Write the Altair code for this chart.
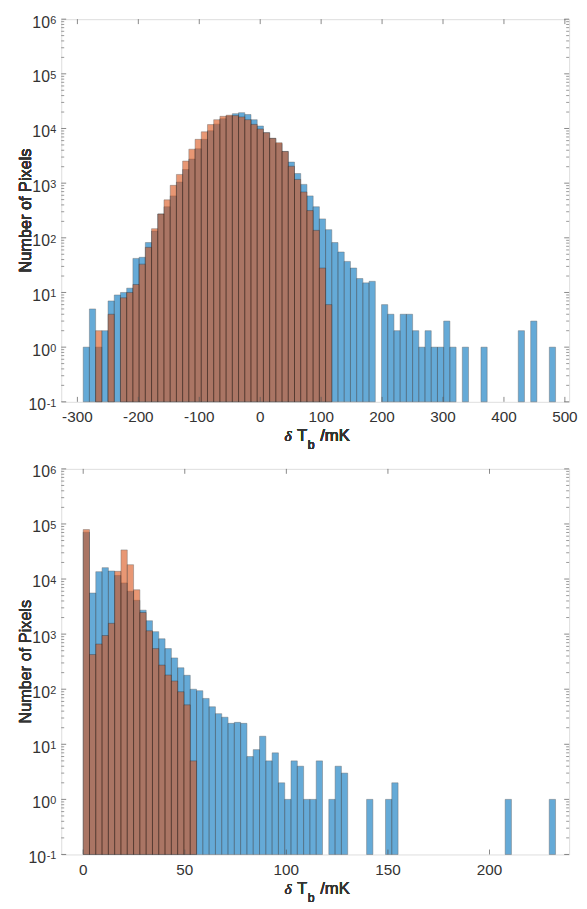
import altair as alt
import pandas as pd

# ---------------- data ----------------
# top panel: 76 bins, first edge and width
TOP_EDGE0 = -290.5
TOP_BINW = 10.2
top_blue = [1, 5, 1, 2, 7, 9, 10, 12, 42, 44, 82, 133, 273, 370, 585, 1047, 1775,
            2754, 4250, 6330, 9080, 12000, 15100, 17000, 18700, 19500, 18000, 14500,
            11100, 8400, 6600, 5300, 3800, 2430, 1500, 950, 585, 370, 222, 141, 82,
            55, 37, 28, 18, 15, 16, 0, 6, 4, 2, 4, 4, 2, 1, 2, 1, 1, 3, 1, 0, 1, 0,
            0, 1, 0, 0, 0, 0, 0, 2, 0, 3, 0, 0, 1]
top_orange = [0, 0, 2, 0, 4, 0, 8, 10, 14, 33, 67, 147, 273, 495, 912, 1443, 2535,
              4180, 6330, 8700, 11800, 14500, 16700, 17500, 17200, 16300, 14500, 11900,
              9800, 8400, 6600, 5500, 3800, 2040, 1170, 690, 315, 137, 28, 6]

# bottom panel: 75 bins
BOT_EDGE0 = 0.0
BOT_BINW = 3.1
bot_blue = [71000, 5570, 13600, 16100, 14000, 11600, 8500, 6000, 4110, 2720, 1750,
            1110, 823, 546, 370, 245, 179, 100, 94, 68, 48, 36, 31, 24, 25, 24, 6, 8,
            14, 5, 7, 2, 1, 5, 4, 1, 1, 5, 0, 1, 4, 3, 0, 0, 0, 1, 0, 0, 1, 2, 0, 0,
            0, 0, 0, 0, 0, 0, 0, 0, 0, 0, 0, 0, 0, 0, 0, 1, 0, 0, 0, 0, 0, 0, 1]
bot_orange = [79000, 426, 660, 944, 1570, 13800, 33800, 18200, 6380, 2470, 1150, 546,
              274, 181, 141, 90, 52, 5]

top_xticks = [-300, -200, -100, 0, 100, 200, 300, 400, 500]
bot_xticks = [0, 50, 100, 150, 200]
y_major = [0.1, 1, 10, 100, 1000, 10000, 100000, 1000000]
y_exps = ["-1", "0", "1", "2", "3", "4", "5", "6"]
y_minor = [m * 10 ** k for k in range(-1, 6) for m in range(2, 10)]

FONT = "Liberation Sans"
TXT = "#333333"
BLUE = "#0072BD"
ORANGE = "#D95319"


def bars_df(edge0, binw, counts):
    rows = []
    for i, c in enumerate(counts):
        if c > 0:
            rows.append({"x0": edge0 + i * binw, "x1": edge0 + (i + 1) * binw, "n": c})
    return pd.DataFrame(rows)


def panel(edge0, binw, blue, orange, xdom, xticks, W, H):
    xs = alt.Scale(domain=xdom, nice=False, zero=False)
    ys = alt.Scale(type="log", domain=[0.1, 1e6], nice=False)

    def bars(counts, color):
        return alt.Chart(bars_df(edge0, binw, counts)).mark_bar(
            color=color, opacity=0.6, stroke="black", strokeWidth=0.5, strokeOpacity=0.85
        ).encode(
            x=alt.X("x0:Q", scale=xs, axis=None),
            x2="x1:Q",
            y=alt.Y("n:Q", scale=ys, axis=None),
            y2=alt.value(H),
        )

    xt = pd.DataFrame({"v": xticks, "lab": [str(t) for t in xticks]})
    ymaj = pd.DataFrame({"v": y_major, "e": y_exps})
    ymin = pd.DataFrame({"v": y_minor})
    tick_color = "#555555"

    xtick_b = alt.Chart(xt).mark_rule(color=tick_color, strokeWidth=0.7).encode(
        x=alt.X("v:Q", scale=xs), y=alt.value(H), y2=alt.value(H - 5))
    xtick_t = alt.Chart(xt).mark_rule(color=tick_color, strokeWidth=0.7).encode(
        x=alt.X("v:Q", scale=xs), y=alt.value(0), y2=alt.value(5))
    ymaj_l = alt.Chart(ymaj).mark_rule(color=tick_color, strokeWidth=0.7).encode(
        y=alt.Y("v:Q", scale=ys), x=alt.value(0), x2=alt.value(5))
    ymaj_r = alt.Chart(ymaj).mark_rule(color=tick_color, strokeWidth=0.7).encode(
        y=alt.Y("v:Q", scale=ys), x=alt.value(W - 5), x2=alt.value(W))
    ymin_l = alt.Chart(ymin).mark_rule(color=tick_color, strokeWidth=0.6).encode(
        y=alt.Y("v:Q", scale=ys), x=alt.value(0), x2=alt.value(3))
    ymin_r = alt.Chart(ymin).mark_rule(color=tick_color, strokeWidth=0.6).encode(
        y=alt.Y("v:Q", scale=ys), x=alt.value(W - 3), x2=alt.value(W))

    # invisible anchor fixing the left extent of the layout
    anchor = alt.Chart(xt).mark_rule(strokeOpacity=0, strokeWidth=0.5).encode(
        x=alt.value(-53), x2=alt.value(-52), y=alt.value(H / 2))

    xlab = alt.Chart(xt).mark_text(font=FONT, fontSize=15.5, fontWeight="normal",
                                   color=TXT, align="center", baseline="alphabetic").encode(
        x=alt.X("v:Q", scale=xs), y=alt.value(H + 20.5), text="lab:N")

    ybase = alt.Chart(ymaj).transform_calculate(
        bx="datum.e == '-1' ? -15.5 : -11.5"
    ).mark_text(font=FONT, fontSize=16, fontWeight="normal", color=TXT, align="right",
                baseline="alphabetic", dy=8.5).encode(
        y=alt.Y("v:Q", scale=ys), x=alt.X("bx:Q", scale=None), text=alt.value("10"))
    yexp = alt.Chart(ymaj).mark_text(font=FONT, fontSize=11, fontWeight="normal",
                                     color=TXT, align="right", baseline="alphabetic",
                                     dy=5).encode(
        y=alt.Y("v:Q", scale=ys), x=alt.value(-5), text="e:N")

    ytitle = alt.Chart(xt).mark_text(font=FONT, fontSize=16.5, fontWeight="normal",
                                     color=TXT, align="center", baseline="alphabetic",
                                     angle=270).encode(
        x=alt.value(-31), y=alt.value(H / 2), text=alt.value("Number of Pixels"))

    cx = W / 2
    t_delta = alt.Chart(xt).mark_text(font="Liberation Serif", fontStyle="italic",
                                      fontWeight="normal", fontSize=15.5, color=TXT,
                                      align="left", baseline="alphabetic").encode(
        x=alt.value(cx - 31), y=alt.value(H + 40), text=alt.value("δ"))
    t_T = alt.Chart(xt).mark_text(font=FONT, fontSize=17, fontWeight="normal", color=TXT,
                                  align="left", baseline="alphabetic").encode(
        x=alt.value(cx - 18.5), y=alt.value(H + 40), text=alt.value("T"))
    t_b = alt.Chart(xt).mark_text(font=FONT, fontSize=12.5, fontWeight="normal", color=TXT,
                                  align="left", baseline="alphabetic").encode(
        x=alt.value(cx - 7.5), y=alt.value(H + 48), text=alt.value("b"))
    t_mk = alt.Chart(xt).mark_text(font=FONT, fontSize=17, fontWeight="normal", color=TXT,
                                   align="left", baseline="alphabetic").encode(
        x=alt.value(cx + 5), y=alt.value(H + 40), text=alt.value("/mK"))

    return alt.layer(
        bars(blue, BLUE), bars(orange, ORANGE),
        xtick_b, xtick_t, ymaj_l, ymaj_r, ymin_l, ymin_r, anchor,
        xlab, ybase, yexp, ytitle, t_delta, t_T, t_b, t_mk,
    ).properties(width=W, height=H)


top = panel(TOP_EDGE0, TOP_BINW, top_blue, top_orange, [-326.5, 507], top_xticks, 515, 388)
bottom = panel(BOT_EDGE0, BOT_BINW, bot_blue, bot_orange, [-10.8, 239.2], bot_xticks, 515, 391)

chart = alt.vconcat(top, bottom, spacing=68, bounds="flush").properties(
    padding=0,
).configure_view(stroke="#555555", strokeWidth=0.8).configure(background="white")

chart.save("out.html", embed_options={"renderer": "svg", "actions": False})
